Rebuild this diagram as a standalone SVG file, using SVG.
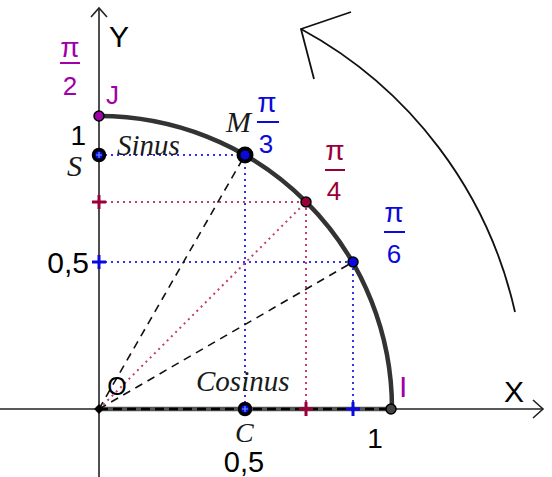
<svg xmlns="http://www.w3.org/2000/svg" width="552" height="477" viewBox="0 0 552 477">
<style>
.sans{font-family:"Liberation Sans",Arial,sans-serif}
.ital{font-family:"Liberation Serif","Times New Roman",serif;font-style:italic;fill:#1a1a1a}
.axis{stroke:#222;stroke-width:1.6;fill:none}
.dash{stroke:#111;stroke-width:1.6;stroke-dasharray:8 6;fill:none}
.bdot{stroke:#3333ee;stroke-width:2;stroke-dasharray:2 4;fill:none}
.rdot{stroke:#c04070;stroke-width:2;stroke-dasharray:2 4;fill:none}
.purple{fill:#a000a8}
.red{fill:#99003a}
.blue{fill:#0a0adc}
.bcross{stroke:#0a0adc;stroke-width:3}
.rcross{stroke:#99003a;stroke-width:3}
.pi{font-size:28px}
.dig{font-size:26px}
</style>
<g id="connectors">
  <line class="axis" x1="0" y1="409" x2="543" y2="409"/>
  <polyline class="axis" points="533,400 543,409 533,418"/>
  <line class="axis" x1="99" y1="477" x2="99" y2="8"/>
  <polyline class="axis" points="91,17 99,8 107,17"/>
  <line x1="99" y1="409" x2="391" y2="409" stroke="#555" stroke-width="4.5"/>
  <line x1="99" y1="409" x2="391" y2="409" stroke="#000" stroke-width="2.5" stroke-dasharray="9 5"/>
  <path d="M99,116 A293,293 0 0 1 392,409" fill="none" stroke="#333" stroke-width="4.5"/>
  <path d="M515,312 A429,429 0 0 0 301,29" fill="none" stroke="#111" stroke-width="1.8"/>
  <polyline points="351,12 301,29 314,79" fill="none" stroke="#111" stroke-width="1.8"/>
  <line class="bdot" x1="99" y1="155" x2="245" y2="155"/>
  <line class="bdot" x1="245" y1="155" x2="245" y2="409"/>
  <line class="rdot" x1="99" y1="202" x2="306" y2="202"/>
  <line class="rdot" x1="306" y1="202" x2="306" y2="409"/>
  <line class="bdot" x1="99" y1="262" x2="353" y2="262"/>
  <line class="bdot" x1="353" y1="262" x2="353" y2="409"/>
  <line class="dash" x1="99" y1="409" x2="245" y2="155"/>
  <line class="dash" x1="99" y1="409" x2="353" y2="262"/>
  <line class="rdot" x1="99" y1="409" x2="306" y2="202"/>
  <path class="rcross" d="M92,202h14M99,195v14"/>
  <path class="bcross" d="M92,262h14M99,255v14"/>
  <path class="rcross" d="M299,409h14M306,402v14"/>
  <path class="bcross" d="M346,409h14M353,402v14"/>
</g>
<g id="O">
  <rect x="95.5" y="405.5" width="7" height="7" fill="#000" transform="rotate(45 99 409)"/>
  <text class="sans" x="117" y="395" font-size="25" text-anchor="middle" fill="#000">O</text>
</g>
<g id="J">
  <circle cx="99" cy="116" r="5" fill="#a000a8" stroke="#000" stroke-width="1.5"/>
  <text class="sans purple" x="106" y="104" font-size="26">J</text>
  <text class="sans purple pi" x="70" y="57" text-anchor="middle">π</text>
  <line x1="60" y1="63" x2="80" y2="63" stroke="#a000a8" stroke-width="2"/>
  <text class="sans purple dig" x="70" y="95" text-anchor="middle">2</text>
  <text class="sans" x="86" y="145" font-size="28" text-anchor="end" fill="#000">1</text>
</g>
<g id="S">
  <circle cx="99" cy="155" r="5.5" fill="#0a0adc" stroke="#000" stroke-width="3.5"/>
  <path d="M96,155h6M99,152v6" stroke="#6699ff" stroke-width="1.2"/>
  <text class="ital" x="67" y="176" font-size="30">S</text>
  <text class="ital" x="117" y="155" font-size="29">Sinus</text>
</g>
<g id="M">
  <circle cx="245" cy="155" r="6.5" fill="#0a0adc" stroke="#000" stroke-width="4"/>
  <text class="ital" x="226" y="132" font-size="30">M</text>
  <text class="sans blue pi" x="267" y="112" text-anchor="middle">π</text>
  <line x1="257" y1="122" x2="279" y2="122" stroke="#0a0adc" stroke-width="2"/>
  <text class="sans blue dig" x="266" y="153" text-anchor="middle">3</text>
</g>
<g id="P4">
  <circle cx="306" cy="202" r="5" fill="#99003a" stroke="#000" stroke-width="1.5"/>
  <text class="sans red pi" x="335" y="160" text-anchor="middle">π</text>
  <line x1="325" y1="170" x2="345" y2="170" stroke="#99003a" stroke-width="2"/>
  <text class="sans red dig" x="334" y="200" text-anchor="middle">4</text>
</g>
<g id="P6">
  <circle cx="353" cy="262" r="5" fill="#0a0adc" stroke="#000" stroke-width="1.5"/>
  <text class="sans blue pi" x="394" y="222" text-anchor="middle">π</text>
  <line x1="384" y1="232" x2="405" y2="232" stroke="#0a0adc" stroke-width="2"/>
  <text class="sans blue dig" x="394" y="263" text-anchor="middle">6</text>
  <text class="sans" x="89" y="273" font-size="30" text-anchor="end" fill="#000">0,5</text>
</g>
<g id="C">
  <circle cx="245" cy="409" r="5.5" fill="#0a0adc" stroke="#000" stroke-width="3.5"/>
  <path d="M242,409h6M245,406v6" stroke="#6699ff" stroke-width="1.2"/>
  <text class="ital" x="235" y="442" font-size="28">C</text>
  <text class="ital" x="196" y="391" font-size="29">Cosinus</text>
  <text class="sans" x="244" y="472" font-size="29" text-anchor="middle" fill="#000">0,5</text>
</g>
<g id="I">
  <circle cx="391" cy="409" r="5" fill="#444" stroke="#000" stroke-width="1.5"/>
  <text class="sans purple" x="399" y="397" font-size="30">I</text>
  <text class="sans" x="375" y="448" font-size="28" text-anchor="middle" fill="#000">1</text>
  <text class="sans" x="514" y="402" font-size="30" text-anchor="middle" fill="#000">X</text>
  <text class="sans" x="119" y="47" font-size="30" text-anchor="middle" fill="#000">Y</text>
</g>
</svg>
